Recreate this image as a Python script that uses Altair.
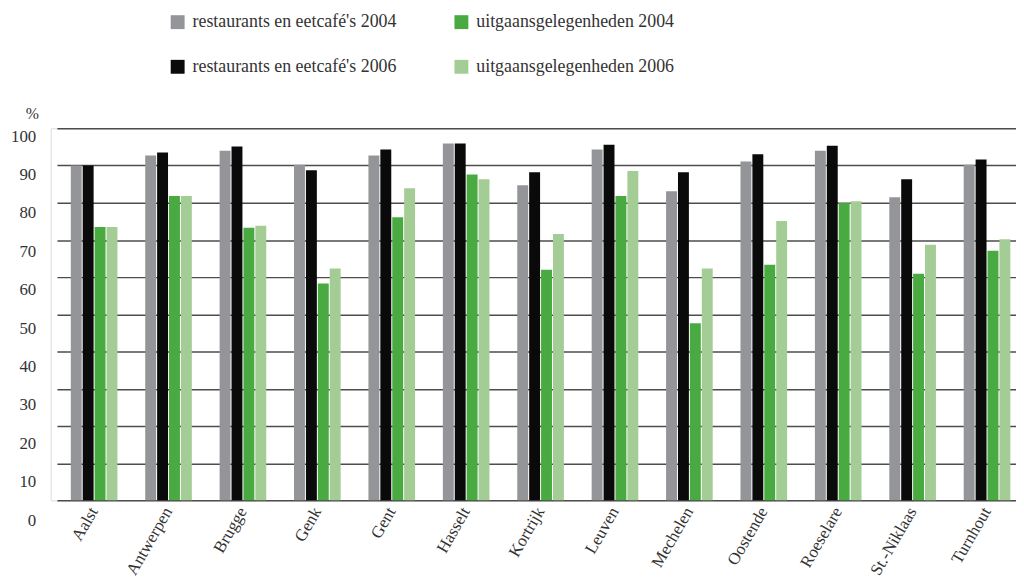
import altair as alt
import pandas as pd

cities = ["Aalst", "Antwerpen", "Brugge", "Genk", "Gent", "Hasselt", "Kortrijk",
          "Leuven", "Mechelen", "Oostende", "Roeselare", "St.-Niklaas", "Turnhout"]
series = ["restaurants en eetcafé's 2004", "restaurants en eetcafé's 2006",
          "uitgaansgelegenheden 2004", "uitgaansgelegenheden 2006"]
rest_2004 = [90.0, 92.7, 94.0, 90.2, 92.7, 95.9, 84.7, 94.3, 83.1, 91.1, 94.0, 81.5, 90.2]
rest_2006 = [90.0, 93.5, 95.1, 88.7, 94.3, 95.9, 88.2, 95.6, 88.2, 93.0, 95.3, 86.3, 91.6]
uit_2004 = [73.5, 81.8, 73.3, 58.3, 76.1, 87.6, 62.0, 81.8, 47.6, 63.3, 79.9, 60.9, 67.1]
uit_2006 = [73.5, 81.8, 73.8, 62.3, 83.9, 86.3, 71.6, 88.5, 62.3, 75.1, 80.4, 68.7, 70.2]
series_colors = ["#939598", "#0a0a0a", "#4aaa42", "#a3cd95"]
y_ticks = [0, 10, 20, 30, 40, 50, 60, 70, 80, 90, 100]

rows = []
for vals, s in zip([rest_2004, rest_2006, uit_2004, uit_2006], series):
    for c, v in zip(cities, vals):
        rows.append({"stad": c, "reeks": s, "waarde": v})
df = pd.DataFrame(rows)

FONT = "Liberation Serif, Times New Roman, DejaVu Serif, serif"

chart = alt.Chart(df).mark_bar().encode(
    x=alt.X("stad:N", sort=cities, title=None,
            scale=alt.Scale(range=[6.3, 981.3], paddingInner=0, paddingOuter=0),
            axis=alt.Axis(labelAngle=-60, labelAlign="right", labelBaseline="middle",
                          labelPadding=8, ticks=False, domain=False, labelFont=FONT,
                          labelFontSize=17, labelColor="#333333", grid=False)),
    xOffset=alt.XOffset("reeks:N", sort=series,
                        scale=alt.Scale(domain=series, range=[14, 61],
                                        paddingInner=1/12, paddingOuter=0)),
    y=alt.Y("waarde:Q", title="%",
            scale=alt.Scale(domain=[0, 100], nice=False),
            axis=alt.Axis(values=y_ticks, ticks=False, tickSize=0, domain=False, labelPadding=15,
                          labelFont=FONT, labelFontSize=17, labelColor="#333333",
                          labelBaseline="middle",
                          labelOffset={"expr": "8 + (100 - datum.value) * 0.12"},
                          grid=True, gridColor="#4d4d4d", gridWidth=1.5,
                          titleAngle=0, titleX=-19, titleY=-10, titleAlign="center",
                          titleBaseline="alphabetic", titleFont=FONT, titleFontSize=16,
                          titleFontWeight="normal", titleColor="#333333")),
    color=alt.Color("reeks:N",
                    scale=alt.Scale(domain=series, range=series_colors),
                    legend=alt.Legend(title=None, orient="none", legendX=119, legendY=-116,
                                      columns=2, symbolType="square", symbolSize=196,
                                      symbolStrokeWidth=0, symbolOpacity=1,
                                      labelFont=FONT, labelFontSize=18, labelColor="#333333",
                                      labelOffset=6, rowPadding=27, columnPadding=56,
                                      labelLimit=400, padding=0)),
).properties(
    width=973, height=375,
    autosize=alt.AutoSizeParams(type="none"),
    padding={"left": 43, "top": 119, "right": 0, "bottom": 76},
).configure_view(
    stroke="#333333", strokeWidth=1.5
).configure(background="white")

chart.save("out.html", embed_options={"renderer": "svg", "actions": False})
